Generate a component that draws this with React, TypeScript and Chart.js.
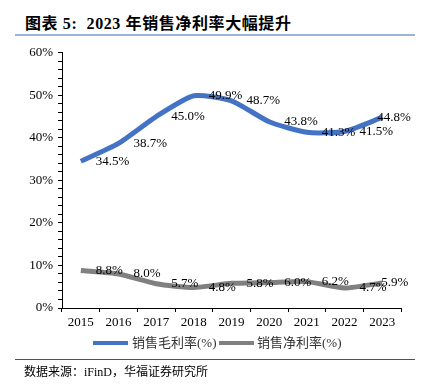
import React, { useEffect, useRef } from "react";
import { Chart, registerables } from "chart.js";

Chart.register(...registerables);

const years = ["2015", "2016", "2017", "2018", "2019", "2020", "2021", "2022", "2023"];
const grossMargin = [34.5, 38.7, 45.0, 49.9, 48.7, 43.8, 41.3, 41.5, 44.8];
const netMargin = [8.8, 8.0, 5.7, 4.8, 5.8, 6.0, 6.2, 4.7, 5.9];
const seriesNames = ["销售毛利率(%)", "销售净利率(%)"];
const BLUE = "#4472C4";
const GRAY = "#808080";
const SERIF = '"Liberation Serif", "Times New Roman", "Noto Sans CJK SC", serif';
const CJK = '"Liberation Serif", "Noto Sans CJK SC", serif';

const labelPlugin = {
  id: "valueLabels",
  afterDatasetsDraw(chart: any) {
    const ctx = chart.ctx;
    ctx.save();
    ctx.font = "13px " + SERIF;
    ctx.fillStyle = "#000";
    ctx.textAlign = "left";
    ctx.textBaseline = "middle";
    chart.data.datasets.forEach((ds: any, i: number) => {
      const meta = chart.getDatasetMeta(i);
      const n = meta.data.length;
      meta.data.forEach((pt: any, j: number) => {
        const dx = j === n - 1 ? (i === 0 ? -5 : -1) : 15;
        ctx.fillText(ds.data[j].toFixed(1) + "%", pt.x + dx, pt.y);
      });
    });
    ctx.restore();
  },
};

export default function App() {
  const ref = useRef<HTMLCanvasElement>(null);
  useEffect(() => {
    if (!ref.current) return;
    const chart = new Chart(ref.current, {
      type: "line",
      data: {
        labels: years,
        datasets: [
          {
            label: seriesNames[0],
            data: grossMargin,
            borderColor: BLUE,
            backgroundColor: BLUE,
            borderWidth: 5,
            pointRadius: 0,
            tension: 0.2,
          },
          {
            label: seriesNames[1],
            data: netMargin,
            borderColor: GRAY,
            backgroundColor: GRAY,
            borderWidth: 5,
            pointRadius: 0,
            tension: 0.2,
          },
        ],
      },
      options: {
        animation: false,
        responsive: false,
        maintainAspectRatio: false,
        layout: { padding: { top: 9, right: 39, left: 0, bottom: 0 } },
        plugins: { legend: { display: false }, tooltip: { enabled: false } },
        scales: {
          x: {
            offset: true,
            grid: { offset: true, drawOnChartArea: false, tickLength: 4, color: "#000" },
            border: { color: "#000", width: 1 },
            ticks: { font: { family: SERIF, size: 13 }, color: "#000", padding: 3 },
            afterFit(scale: any) {
              scale.height = 27;
            },
          },
          y: {
            min: 0,
            max: 60,
            grid: { drawOnChartArea: false, tickLength: 4, color: "#000" },
            border: { color: "#000", width: 1 },
            ticks: {
              stepSize: 2,
              autoSkip: false,
              font: { family: SERIF, size: 13 },
              color: "#000",
              padding: 5,
              callback: (v: any) => (Number(v) % 10 === 0 ? v + "%" : ""),
            },
            afterFit(scale: any) {
              scale.width = 62;
            },
          },
        },
      },
      plugins: [labelPlugin],
    });
    return () => chart.destroy();
  }, []);

  return (
    <div style={{ position: "absolute", left: 0, top: 0, width: 440, height: 385, background: "#fff", fontFamily: CJK }}>
      <div style={{ position: "absolute", left: 25, top: 13, fontSize: 16, letterSpacing: 0.6, fontWeight: "bold", lineHeight: "22px", whiteSpace: "nowrap", color: "#000" }}>
        图表 5:&nbsp; 2023 年销售净利率大幅提升
      </div>
      <div style={{ position: "absolute", left: 15, top: 34, width: 400, height: 2, background: "#9db3d6" }} />
      <canvas ref={ref} width={440} height={295} style={{ position: "absolute", left: 0, top: 40, width: 440, height: 295 }} />
      <div style={{ position: "absolute", left: 93, top: 341, width: 35, height: 4, background: BLUE }} />
      <div style={{ position: "absolute", left: 132, top: 334, fontSize: 13, lineHeight: "18px", whiteSpace: "nowrap", color: "#333" }}>{seriesNames[0]}</div>
      <div style={{ position: "absolute", left: 219, top: 341, width: 35, height: 4, background: GRAY }} />
      <div style={{ position: "absolute", left: 257, top: 334, fontSize: 13, lineHeight: "18px", whiteSpace: "nowrap", color: "#333" }}>{seriesNames[1]}</div>
      <div style={{ position: "absolute", left: 15, top: 359, width: 400, height: 1, background: "#2f5597" }} />
      <div style={{ position: "absolute", left: 24, top: 364, fontSize: 12, lineHeight: "16px", whiteSpace: "nowrap", color: "#000" }}>
        数据来源：iFinD，华福证券研究所
      </div>
    </div>
  );
}
